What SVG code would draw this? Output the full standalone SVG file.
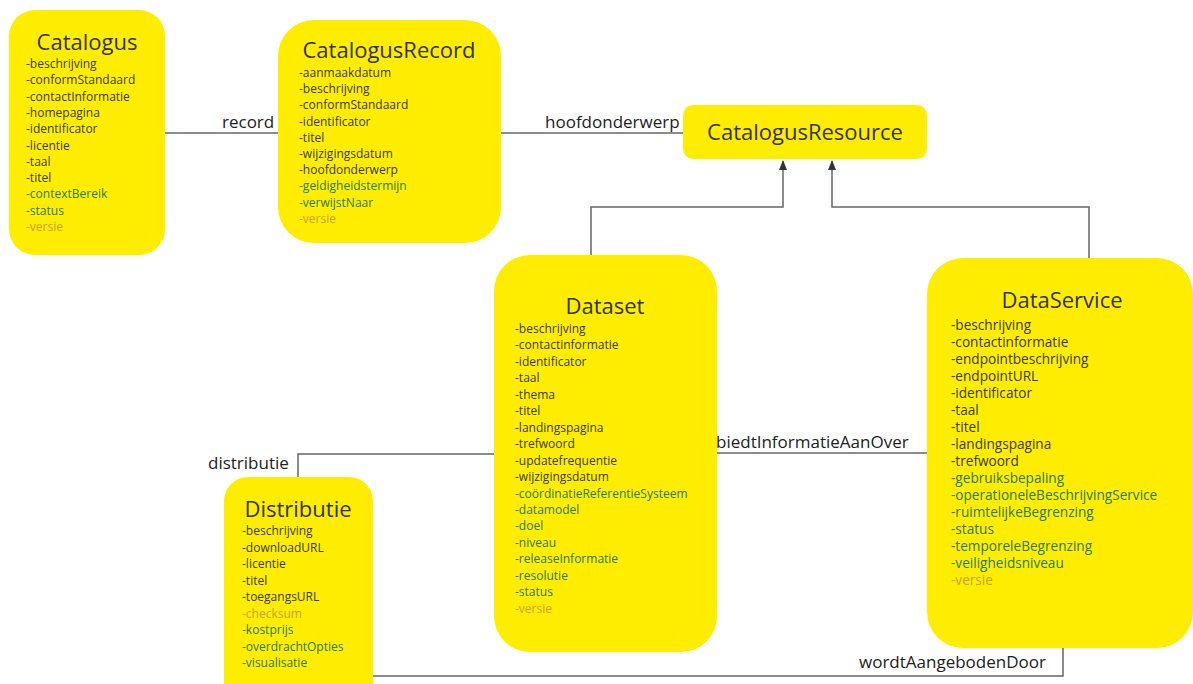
<svg xmlns="http://www.w3.org/2000/svg" width="1193" height="684" viewBox="0 0 1193 684">
  <style>
    .box { fill: #FFED00; }
    .title { font-family: "Open Sans", "Noto Sans", sans-serif; font-size: 22px; fill: #333327; text-anchor: middle; }
    .attr { font-family: "Open Sans", "Noto Sans", sans-serif; font-size: 12px; fill: #3a3a2a; }
    .big { font-size: 13.6px; }
    .g { fill: #2d7a43; }
    .o { fill: #c9a227; }
    .lbl { font-family: "Open Sans", "Noto Sans", sans-serif; font-size: 17px; fill: #222; }
    .conn { fill: none; stroke: #666; stroke-width: 1.5; }
  </style>
  <defs>
    <marker id="arr" viewBox="0 0 10 10" refX="9" refY="5" markerWidth="10" markerHeight="10" markerUnits="userSpaceOnUse" orient="auto">
      <path d="M0,1 L10,5 L0,9 Z" fill="#333"/>
    </marker>
  </defs>
  <rect width="1193" height="684" fill="#ffffff"/>

  <g id="connectors">
    <line class="conn" x1="165" y1="133" x2="280" y2="133"/>
    <text class="lbl" x="222" y="128">record</text>
    <line class="conn" x1="501" y1="133" x2="683" y2="133"/>
    <text class="lbl" x="545" y="128">hoofdonderwerp</text>
    <path class="conn" d="M591,256 V207 H783 V161" stroke="#444" marker-end="url(#arr)"/>
    <path class="conn" d="M1089,259 V207 H832 V161" marker-end="url(#arr)"/>
    <line class="conn" x1="717" y1="453" x2="927" y2="453"/>
    <text class="lbl" x="716" y="448">biedtInformatieAanOver</text>
    <path class="conn" d="M494,454 H298 V477"/>
    <text class="lbl" x="208" y="469">distributie</text>
    <path class="conn" d="M365,676 H1063 V648"/>
    <text class="lbl" x="859" y="668">wordtAangebodenDoor</text>
  </g>

  <g id="catalogus">
    <rect class="box" x="9" y="10" width="156" height="245" rx="26"/>
    <text class="title" x="87" y="50">Catalogus</text>
    <text class="attr" x="26" y="68">-beschrijving</text>
    <text class="attr" x="26" y="84.3">-conformStandaard</text>
    <text class="attr" x="26" y="100.6">-contactInformatie</text>
    <text class="attr" x="26" y="116.9">-homepagina</text>
    <text class="attr" x="26" y="133.2">-identificator</text>
    <text class="attr" x="26" y="149.5">-licentie</text>
    <text class="attr" x="26" y="165.8">-taal</text>
    <text class="attr" x="26" y="182.1">-titel</text>
    <text class="attr g" x="26" y="198.4">-contextBereik</text>
    <text class="attr g" x="26" y="214.7">-status</text>
    <text class="attr o" x="26" y="231">-versie</text>
  </g>

  <g id="catalogusrecord">
    <rect class="box" x="278" y="20" width="223" height="223" rx="36"/>
    <text class="title" x="389" y="58">CatalogusRecord</text>
    <text class="attr" x="299" y="77">-aanmaakdatum</text>
    <text class="attr" x="299" y="93.2">-beschrijving</text>
    <text class="attr" x="299" y="109.4">-conformStandaard</text>
    <text class="attr" x="299" y="125.6">-identificator</text>
    <text class="attr" x="299" y="141.8">-titel</text>
    <text class="attr" x="299" y="158">-wijzigingsdatum</text>
    <text class="attr" x="299" y="174.2">-hoofdonderwerp</text>
    <text class="attr g" x="299" y="190.4">-geldigheidstermijn</text>
    <text class="attr g" x="299" y="206.6">-verwijstNaar</text>
    <text class="attr o" x="299" y="222.8">-versie</text>
  </g>

  <g id="catalogusresource">
    <rect class="box" x="683" y="105" width="244" height="54" rx="10"/>
    <text class="title" x="805" y="140">CatalogusResource</text>
  </g>

  <g id="dataset">
    <rect class="box" x="494" y="255" width="223" height="397" rx="36"/>
    <text class="title" x="605" y="314">Dataset</text>
    <text class="attr" x="515" y="333">-beschrijving</text>
    <text class="attr" x="515" y="349.45">-contactinformatie</text>
    <text class="attr" x="515" y="365.9">-identificator</text>
    <text class="attr" x="515" y="382.35">-taal</text>
    <text class="attr" x="515" y="398.8">-thema</text>
    <text class="attr" x="515" y="415.25">-titel</text>
    <text class="attr" x="515" y="431.7">-landingspagina</text>
    <text class="attr" x="515" y="448.15">-trefwoord</text>
    <text class="attr" x="515" y="464.6">-updatefrequentie</text>
    <text class="attr" x="515" y="481.05">-wijzigingsdatum</text>
    <text class="attr g" x="515" y="497.5">-coördinatieReferentieSysteem</text>
    <text class="attr g" x="515" y="513.95">-datamodel</text>
    <text class="attr g" x="515" y="530.4">-doel</text>
    <text class="attr g" x="515" y="546.85">-niveau</text>
    <text class="attr g" x="515" y="563.3">-releaseInformatie</text>
    <text class="attr g" x="515" y="579.75">-resolutie</text>
    <text class="attr g" x="515" y="596.2">-status</text>
    <text class="attr o" x="515" y="612.65">-versie</text>
  </g>

  <g id="dataservice">
    <rect class="box" x="927" y="258" width="266" height="390" rx="36"/>
    <text class="title" x="1062" y="308">DataService</text>
    <text class="attr big" x="951" y="329.5">-beschrijving</text>
    <text class="attr big" x="951" y="346.5">-contactinformatie</text>
    <text class="attr big" x="951" y="363.5">-endpointbeschrijving</text>
    <text class="attr big" x="951" y="380.5">-endpointURL</text>
    <text class="attr big" x="951" y="397.5">-identificator</text>
    <text class="attr big" x="951" y="414.5">-taal</text>
    <text class="attr big" x="951" y="431.5">-titel</text>
    <text class="attr big" x="951" y="448.5">-landingspagina</text>
    <text class="attr big" x="951" y="465.5">-trefwoord</text>
    <text class="attr big g" x="951" y="482.5">-gebruiksbepaling</text>
    <text class="attr big g" x="951" y="499.5">-operationeleBeschrijvingService</text>
    <text class="attr big g" x="951" y="516.5">-ruimtelijkeBegrenzing</text>
    <text class="attr big g" x="951" y="533.5">-status</text>
    <text class="attr big g" x="951" y="550.5">-temporeleBegrenzing</text>
    <text class="attr big g" x="951" y="567.5">-veiligheidsniveau</text>
    <text class="attr big o" x="951" y="584.5">-versie</text>
  </g>

  <g id="distributie">
    <rect class="box" x="224" y="477" width="149" height="230" rx="24"/>
    <text class="title" x="298" y="517">Distributie</text>
    <text class="attr" x="242" y="535">-beschrijving</text>
    <text class="attr" x="242" y="551.5">-downloadURL</text>
    <text class="attr" x="242" y="568">-licentie</text>
    <text class="attr" x="242" y="584.5">-titel</text>
    <text class="attr" x="242" y="601">-toegangsURL</text>
    <text class="attr o" x="242" y="617.5">-checksum</text>
    <text class="attr g" x="242" y="634">-kostprijs</text>
    <text class="attr g" x="242" y="650.5">-overdrachtOpties</text>
    <text class="attr g" x="242" y="667">-visualisatie</text>
  </g>
</svg>
